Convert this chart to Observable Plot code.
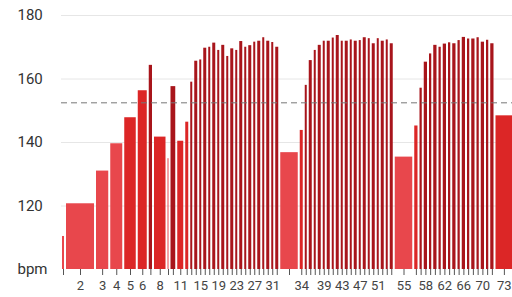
<!DOCTYPE html>
<html>
<head>
<meta charset="utf-8">
<script src="https://cdn.jsdelivr.net/npm/d3@7"></script>
<script src="https://cdn.jsdelivr.net/npm/@observablehq/plot@0.6"></script>
<style>
  html, body { margin: 0; padding: 0; background: #fff; }
  #chart svg { display: block; }
</style>
</head>
<body>
<div id="chart"></div>
<script>
// Lap numbers
const laps = [
  1, 2, 3, 4, 5, 6, 7, 8, 9, 10, 11, 12, 13, 14, 15, 16, 17, 18, 19, 20,
  21, 22, 23, 24, 25, 26, 27, 28, 29, 30, 31, 32, 33, 34, 35, 36, 37, 38, 39, 40,
  41, 42, 43, 44, 45, 46, 47, 48, 49, 50, 51, 52, 53, 54, 55, 56, 57, 58, 59, 60,
  61, 62, 63, 64, 65, 66, 67, 68, 69, 70, 71, 72, 73
];
// Average heart rate per lap (bpm)
const heartRate = [
  110.4, 120.7, 131.0, 139.6, 147.8, 156.3, 164.3, 141.7, 134.9, 157.6,
  140.4, 146.4, 159.0, 165.6, 166.0, 169.7, 170.0, 171.3, 169.0, 170.6,
  167.1, 169.5, 169.0, 171.8, 170.0, 170.5, 171.6, 171.9, 173.0, 171.9,
  171.5, 170.0, 136.8, 143.8, 158.0, 165.8, 169.0, 170.6, 171.9, 171.9,
  172.9, 173.7, 171.9, 171.9, 172.3, 171.9, 172.1, 173.0, 172.7, 171.1,
  172.7, 171.9, 172.3, 171.1, 135.4, 145.2, 157.1, 165.3, 167.9, 170.6,
  170.0, 171.0, 171.4, 171.1, 172.1, 173.1, 172.6, 172.6, 173.0, 171.6,
  172.2, 171.1, 148.4
];
// Lap duration (seconds)
const duration = [
  32, 240, 114, 112, 108, 88, 42, 108, 24, 54,
  64, 40, 32, 40, 32, 40, 32, 40, 32, 40,
  32, 40, 32, 40, 32, 40, 32, 40, 32, 40,
  32, 40, 156, 40, 32, 40, 32, 40, 32, 40,
  32, 40, 32, 40, 32, 40, 32, 40, 32, 40,
  32, 40, 32, 40, 156, 42, 34, 42, 34, 42,
  34, 42, 34, 42, 34, 42, 34, 42, 34, 42,
  34, 42, 150
];
const labeledLaps = [2, 3, 4, 5, 6, 8, 11, 15, 19, 23, 27, 31, 34, 39, 43, 47, 51, 55, 58, 62, 66, 70, 73];
const yTicks = [100, 120, 140, 160, 180];
const averageHR = 152.5;
const baseline = 100;
const shownSeconds = 3608;

const zoneBreaks = [140, 157];
const zoneColors = ["#e8474c", "#dc2626", "#a8151b"];

// Build the table
let t = 0;
const data = laps.map((lap, i) => {
  const row = { lap, hr: heartRate[i], x1: t, x2: t + duration[i] };
  t += duration[i];
  return row;
});
const centers = data.map(d => (d.x1 + d.x2) / 2);
const labelAt = new Map(data.map(d => [(d.x1 + d.x2) / 2, labeledLaps.includes(d.lap) ? String(d.lap) : ""]));

const chart = Plot.plot({
  width: 512,
  height: 297,
  marginLeft: 61,
  marginRight: 0,
  marginTop: 15,
  marginBottom: 28,
  style: { fontFamily: "Roboto, sans-serif", background: "#fff", color: "#333" },
  x: { domain: [0, shownSeconds], axis: null, label: null },
  y: { domain: [baseline, 180], axis: null, label: null },
  color: { type: "threshold", domain: zoneBreaks, range: zoneColors },
  marks: [
    Plot.gridY(yTicks.filter(v => v !== baseline), { stroke: "#e6e6e6", strokeOpacity: 1 }),
    Plot.rect(data, {
      x1: "x1", x2: "x2",
      y1: () => baseline, y2: "hr",
      fill: "hr",
      insetLeft: 1, insetRight: 1
    }),
    Plot.ruleY([averageHR], { stroke: "#777", strokeDasharray: "6,4" }),
    Plot.axisY({
      ticks: yTicks, tickSize: 0, tickPadding: 3, label: null,
      textAnchor: "start", dx: -41,
      tickFormat: d => d === baseline ? "bpm" : String(d),
      fontSize: 15, fill: "#333"
    }),
    Plot.axisX({
      ticks: centers, tickSize: 6, tickPadding: 5, label: null,
      tickFormat: d => labelAt.get(d) ?? "",
      fontSize: 13, stroke: "#555", fill: "#444"
    })
  ]
});
document.getElementById("chart").append(chart);
</script>
</body>
</html>
